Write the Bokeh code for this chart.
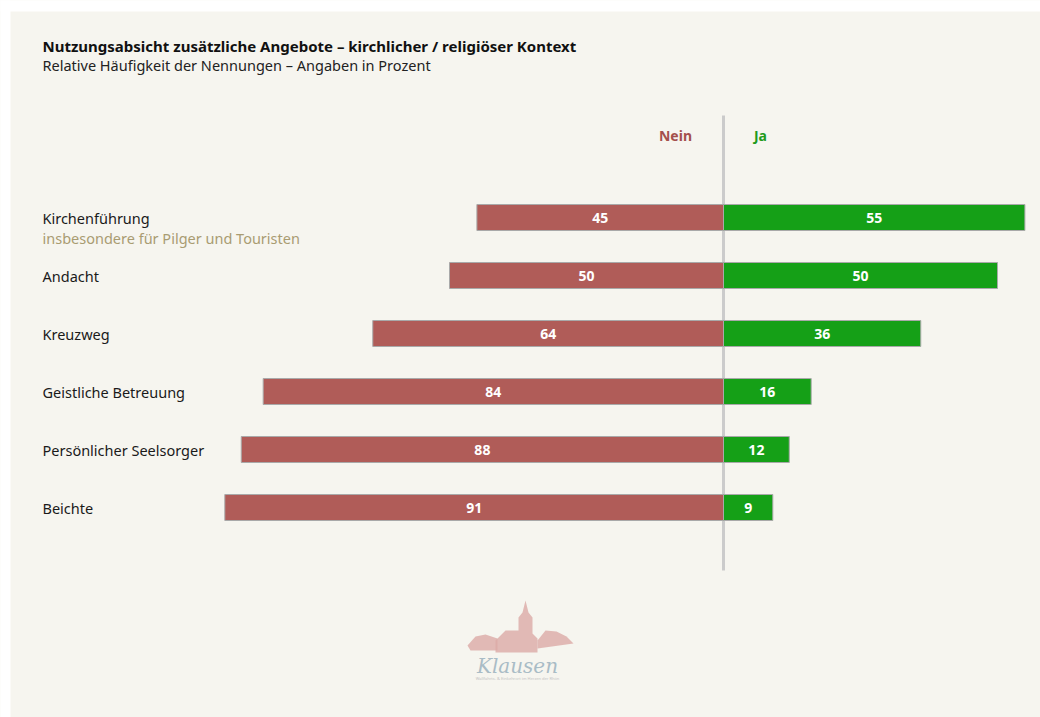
from bokeh.plotting import figure
from bokeh.models import Range1d, ColumnDataSource
from bokeh.core.properties import value
from bokeh.embed import file_html
from bokeh.resources import INLINE

categories = ["Kirchenführung", "Andacht", "Kreuzweg", "Geistliche Betreuung",
              "Persönlicher Seelsorger", "Beichte"]
nein = [45, 50, 64, 84, 88, 91]
ja = [55, 50, 36, 16, 12, 9]
title = "Nutzungsabsicht zusätzliche Angebote – kirchlicher / religiöser Kontext"
subtitle = "Relative Häufigkeit der Nennungen – Angaben in Prozent"
note = "insbesondere für Pilger und Touristen"

FONT = "Noto Sans"
CREAM = "#f6f5ef"
W, H = 1040, 717
CX = 723          # center line in page pixels
SCALE = 5.48      # px per percent
ROW0, ROWSTEP = 217, 58
BARH = 26

def px(xp):       # page pixel -> data x
    return (xp - CX) / SCALE

def py(yp):
    return yp

p = figure(width=W, height=H, output_backend="svg", toolbar_location=None,
           x_range=Range1d(-CX / SCALE, (W - CX) / SCALE),
           y_range=Range1d(H, 0), min_border=0,
           x_axis_location=None, y_axis_location=None,
           background_fill_color=CREAM, border_fill_color=CREAM,
           outline_line_color=None)
p.grid.visible = False

# white page margins (left and top)
p.quad(left=[px(-5)], right=[px(10)], top=[py(-5)], bottom=[py(H + 5)],
       fill_color="white", line_color=None)
p.quad(left=[px(-5)], right=[px(W + 5)], top=[py(-5)], bottom=[py(11)],
       fill_color="white", line_color=None)

rows = [ROW0 + ROWSTEP * i for i in range(len(categories))]
src = ColumnDataSource(dict(
    y=rows, nein_left=[-v for v in nein], ja_right=ja,
    nein_mid=[-v / 2 for v in nein], ja_mid=[v / 2 for v in ja],
    nein_lbl=[str(v) for v in nein], ja_lbl=[str(v) for v in ja],
    cat=categories, zero=[0] * len(categories), lx=[px(42)] * len(categories)))

p.segment(x0=0, x1=0, y0=py(115), y1=py(570), line_color="#cbcbcb", line_width=3)

p.hbar(y="y", left="nein_left", right="zero", height=BARH, source=src,
       fill_color="#b05c58", line_color="#a9a9a9", line_width=1)
p.hbar(y="y", left="zero", right="ja_right", height=BARH, source=src,
       fill_color="#15a017", line_color="#a9a9a9", line_width=1)

common = dict(text_font=value(FONT), text_font_style="bold", text_font_size="14px",
              text_color="white", text_align="center", text_baseline="middle", source=src)
p.text(x="nein_mid", y="y", text="nein_lbl", **common)
p.text(x="ja_mid", y="y", text="ja_lbl", **common)

p.text(x="lx", y="y", text="cat", source=src, text_font=value(FONT),
       text_font_size="14.5px", text_color="#1a1a1a", text_baseline="middle")
p.text(x=[px(42)], y=[py(237)], text=[note], text_font=value(FONT),
       text_font_size="14.5px", text_color="#a99c72", text_baseline="middle")

p.text(x=[px(675)], y=[py(135)], text=["Nein"], text_font=value(FONT),
       text_font_style="bold", text_font_size="14px", text_color="#a4504c",
       text_align="center", text_baseline="middle")
p.text(x=[px(760)], y=[py(135)], text=["Ja"], text_font=value(FONT),
       text_font_style="bold", text_font_size="14px", text_color="#1f9a1c",
       text_align="center", text_baseline="middle")

p.text(x=[px(42)], y=[py(45)], text=[title], text_font=value(FONT),
       text_font_style="bold", text_font_size="15px", text_color="#111111",
       text_baseline="middle")
p.text(x=[px(42)], y=[py(64)], text=[subtitle], text_font=value(FONT),
       text_font_size="14.5px", text_color="#222222", text_baseline="middle")

# decorative logo
pink = "#dcaaa6"
hills_l = [(467, 645), (475, 636), (485, 634), (497, 638), (497, 650), (470, 650)]
hills_r = [(537, 640), (545, 630), (556, 631), (566, 636), (573, 643), (537, 648)]
church = [(495, 652), (495, 640), (505, 630), (518, 630), (518, 617), (522, 612),
          (525, 600), (528, 612), (532, 617), (532, 633), (537, 638), (537, 652)]
for poly in (hills_l, hills_r, church):
    p.patch(x=[px(a) for a, b in poly], y=[py(b) for a, b in poly],
            fill_color=pink, line_color=None, fill_alpha=0.8)
p.text(x=[px(517)], y=[py(665)], text=["Klausen"], text_font=value("DejaVu Serif"),
       text_font_style="italic", text_font_size="20px", text_color="#a9bcc6",
       text_align="center", text_baseline="middle")
p.text(x=[px(517)], y=[py(678)], text=["Wallfahrts- & Einkehrort im Herzen der Rhön"],
       text_font=value(FONT), text_font_size="4px", text_color="#c4c4c4",
       text_align="center", text_baseline="middle")

open("out.html", "w").write(file_html(p, INLINE))
